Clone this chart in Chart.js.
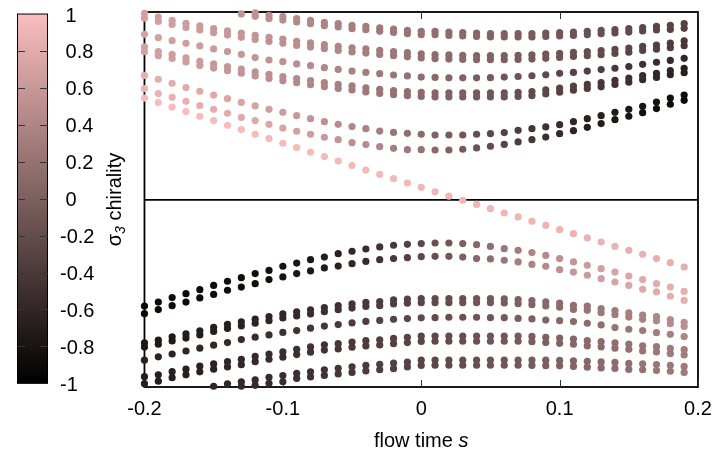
<!DOCTYPE html>
<html>
<head>
<meta charset="utf-8">
<script src="https://cdn.jsdelivr.net/npm/chart.js@4/dist/chart.umd.min.js"></script>
<style>
  html, body { margin: 0; padding: 0; background: #fff; }
</style>
</head>
<body>
<canvas id="chart" width="715" height="451"></canvas>
<script>
// flow time s, one column of points every 0.01
const flowTime = [
  -0.20, -0.19, -0.18, -0.17, -0.16, -0.15, -0.14, -0.13, -0.12, -0.11,
  -0.10, -0.09, -0.08, -0.07, -0.06, -0.05, -0.04, -0.03, -0.02, -0.01,
   0.00,  0.01,  0.02,  0.03,  0.04,  0.05,  0.06,  0.07,  0.08,  0.09,
   0.10,  0.11,  0.12,  0.13,  0.14,  0.15,  0.16,  0.17,  0.18,  0.19
];
const flowTicks = [-0.2, -0.1, 0, 0.1, 0.2];
const colorbarTicks = [1, 0.8, 0.6, 0.4, 0.2, 0, -0.2, -0.4, -0.6, -0.8, -1];

// upper branches (null = outside the plotted range)
const u1Upper = [
  null, null, null, null, null, null, null, null, 0.995, 0.982,
  0.975, 0.965, 0.956, 0.945, 0.938, 0.929, 0.924, 0.915, 0.909, 0.902,
  0.897, 0.897, 0.893, 0.890, 0.888, 0.885, 0.885, 0.885, 0.885, 0.888,
  0.890, 0.893, 0.897, 0.902, 0.906, 0.911, 0.917, 0.924, 0.929, 0.938
];
const u1Lower = [
  null, null, null, null, null, null, null, 0.990, 0.977, 0.964,
  0.957, 0.947, 0.938, 0.927, 0.920, 0.911, 0.906, 0.897, 0.891, 0.884,
  0.879, 0.879, 0.875, 0.872, 0.870, 0.867, 0.867, 0.867, 0.867, 0.870,
  0.872, 0.875, 0.879, 0.884, 0.888, 0.893, 0.899, 0.904, 0.907, 0.913
];
const u1Chirality = [
  null, null, null, null, null, null, null, 0.55, 0.53, 0.50,
  0.47, 0.44, 0.42, 0.39, 0.36, 0.33, 0.30, 0.27, 0.25, 0.22,
  0.20, 0.17, 0.14, 0.11, 0.08, 0.05, 0.02, -0.01, -0.04, -0.07,
  -0.10, -0.12, -0.15, -0.17, -0.20, -0.22, -0.25, -0.27, -0.30, -0.32
];

const u2Upper = [
  0.993, 0.973, 0.956, 0.940, 0.926, 0.912, 0.899, 0.887, 0.876, 0.865,
  0.855, 0.844, 0.835, 0.826, 0.817, 0.809, 0.803, 0.796, 0.789, 0.783,
  0.777, 0.773, 0.771, 0.769, 0.768, 0.768, 0.768, 0.769, 0.771, 0.775,
  0.780, 0.785, 0.789, 0.794, 0.801, 0.808, 0.817, 0.824, 0.834, 0.846
];
const u2Lower = [
  0.967, 0.950, 0.934, 0.918, 0.904, 0.890, 0.877, 0.865, 0.854, 0.843,
  0.833, 0.822, 0.813, 0.804, 0.795, 0.787, 0.781, 0.774, 0.767, 0.761,
  0.755, 0.751, 0.749, 0.747, 0.746, 0.746, 0.746, 0.747, 0.749, 0.753,
  0.758, 0.763, 0.767, 0.772, 0.779, 0.786, 0.795, 0.802, 0.810, 0.820
];
const u2Chirality = [
  0.68, 0.67, 0.66, 0.64, 0.63, 0.61, 0.60, 0.58, 0.56, 0.54,
  0.52, 0.49, 0.46, 0.43, 0.40, 0.37, 0.33, 0.29, 0.26, 0.22,
  0.18, 0.15, 0.12, 0.09, 0.06, 0.03, 0.00, -0.03, -0.06, -0.09,
  -0.12, -0.15, -0.18, -0.22, -0.25, -0.28, -0.31, -0.35, -0.38, -0.42
];

const u3 = [
  0.881, 0.863, 0.847, 0.833, 0.819, 0.803, 0.789, 0.774, 0.757, 0.744,
  0.735, 0.723, 0.714, 0.703, 0.694, 0.685, 0.678, 0.671, 0.664, 0.659,
  0.653, 0.651, 0.649, 0.649, 0.649, 0.650, 0.653, 0.656, 0.660, 0.665,
  0.673, 0.678, 0.685, 0.693, 0.700, 0.709, 0.721, 0.732, 0.742, 0.753
];
const u3Chirality = [
  0.70, 0.69, 0.68, 0.66, 0.65, 0.63, 0.61, 0.59, 0.57, 0.55,
  0.52, 0.49, 0.46, 0.42, 0.39, 0.35, 0.31, 0.27, 0.23, 0.19,
  0.14, 0.10, 0.06, 0.02, -0.02, -0.06, -0.10, -0.14, -0.18, -0.22,
  -0.26, -0.30, -0.34, -0.38, -0.42, -0.46, -0.50, -0.54, -0.57, -0.60
];

const u4Upper = [
  0.814, 0.789, 0.774, 0.756, 0.737, 0.723, 0.709, 0.696, 0.681, 0.667,
  0.655, 0.645, 0.634, 0.624, 0.614, 0.606, 0.596, 0.588, 0.581, 0.576,
  0.572, 0.569, 0.569, 0.569, 0.569, 0.569, 0.569, 0.572, 0.576, 0.585,
  0.594, 0.605, 0.614, 0.623, 0.636, 0.648, 0.661, 0.673, 0.688, 0.700
];
const u4Lower = [
  0.788, 0.767, 0.752, 0.734, 0.715, 0.701, 0.687, 0.674, 0.659, 0.645,
  0.633, 0.623, 0.612, 0.602, 0.592, 0.584, 0.574, 0.566, 0.559, 0.554,
  0.550, 0.547, 0.547, 0.547, 0.547, 0.547, 0.547, 0.550, 0.554, 0.563,
  0.572, 0.583, 0.592, 0.601, 0.614, 0.626, 0.639, 0.651, 0.666, 0.676
];
const u4Chirality = [
  0.68, 0.67, 0.66, 0.64, 0.62, 0.60, 0.58, 0.56, 0.54, 0.51,
  0.48, 0.45, 0.42, 0.38, 0.35, 0.31, 0.27, 0.23, 0.19, 0.15,
  0.11, 0.07, 0.03, -0.01, -0.05, -0.09, -0.13, -0.17, -0.21, -0.25,
  -0.30, -0.34, -0.38, -0.43, -0.47, -0.51, -0.55, -0.59, -0.63, -0.67
];

const u5 = [
  0.662, 0.641, 0.620, 0.597, 0.577, 0.557, 0.538, 0.518, 0.499, 0.481,
  0.465, 0.447, 0.431, 0.415, 0.401, 0.389, 0.378, 0.365, 0.358, 0.353,
  0.348, 0.344, 0.344, 0.344, 0.348, 0.351, 0.357, 0.369, 0.378, 0.387,
  0.399, 0.415, 0.431, 0.447, 0.465, 0.481, 0.497, 0.520, 0.541, 0.557
];
const u5Chirality = [
  0.84, 0.83, 0.82, 0.80, 0.79, 0.77, 0.75, 0.73, 0.70, 0.67,
  0.64, 0.60, 0.56, 0.52, 0.47, 0.42, 0.36, 0.30, 0.24, 0.17,
  0.10, 0.03, -0.04, -0.11, -0.18, -0.25, -0.32, -0.38, -0.44, -0.50,
  -0.55, -0.60, -0.65, -0.69, -0.73, -0.76, -0.79, -0.82, -0.84, -0.86
];

const u6 = [
  0.591, 0.565, 0.545, 0.524, 0.501, 0.481, 0.460, 0.438, 0.421, 0.401,
  0.381, 0.364, 0.348, 0.332, 0.319, 0.303, 0.293, 0.282, 0.273, 0.266,
  0.266, 0.264, 0.264, 0.268, 0.275, 0.284, 0.294, 0.307, 0.319, 0.333,
  0.351, 0.367, 0.385, 0.405, 0.426, 0.444, 0.463, 0.485, 0.508, 0.529
];
const u6Chirality = [
  0.88, 0.87, 0.86, 0.85, 0.84, 0.83, 0.81, 0.79, 0.77, 0.75,
  0.72, 0.69, 0.65, 0.61, 0.56, 0.51, 0.46, 0.40, 0.33, 0.26,
  0.19, 0.11, 0.03, -0.05, -0.13, -0.21, -0.29, -0.36, -0.43, -0.50,
  -0.57, -0.63, -0.68, -0.72, -0.76, -0.80, -0.83, -0.86, -0.88, -0.90
];

// the branch that crosses zero
const crossing = [
  0.541, 0.517, 0.493, 0.469, 0.444, 0.421, 0.396, 0.373, 0.348, 0.325,
  0.300, 0.277, 0.252, 0.229, 0.205, 0.181, 0.157, 0.134, 0.111, 0.088,
  0.065, 0.041, 0.018, -0.004, -0.026, -0.049, -0.072, -0.093, -0.116, -0.138,
  -0.161, -0.182, -0.205, -0.227, -0.250, -0.271, -0.292, -0.315, -0.337, -0.360
];
const crossingChirality = [
  0.98, 0.98, 0.98, 0.98, 0.97, 0.97, 0.97, 0.97, 0.97, 0.96,
  0.96, 0.96, 0.96, 0.95, 0.95, 0.95, 0.95, 0.94, 0.94, 0.94,
  0.93, 0.93, 0.93, 0.92, 0.92, 0.91, 0.91, 0.90, 0.90, 0.89,
  0.89, 0.88, 0.88, 0.87, 0.87, 0.86, 0.86, 0.85, 0.85, 0.84
];

// lower branches
const l1Upper = [
  -0.568, -0.547, -0.523, -0.502, -0.481, -0.458, -0.436, -0.417, -0.395, -0.378,
  -0.356, -0.339, -0.321, -0.307, -0.289, -0.276, -0.264, -0.253, -0.244, -0.239,
  -0.235, -0.232, -0.232, -0.235, -0.241, -0.250, -0.262, -0.271, -0.283, -0.298,
  -0.315, -0.333, -0.351, -0.369, -0.387, -0.408, -0.427, -0.449, -0.467, -0.490
];
const l1Lower = [
  -0.609, -0.587, -0.566, -0.547, -0.525, -0.506, -0.484, -0.467, -0.449, -0.427,
  -0.413, -0.395, -0.381, -0.365, -0.355, -0.342, -0.330, -0.321, -0.315, -0.310,
  -0.305, -0.303, -0.303, -0.307, -0.315, -0.317, -0.324, -0.333, -0.346, -0.356,
  -0.374, -0.387, -0.404, -0.422, -0.440, -0.458, -0.479, -0.493, -0.516, -0.538
];
const l1Chirality = [
  -0.90, -0.90, -0.89, -0.89, -0.88, -0.88, -0.87, -0.86, -0.85, -0.83,
  -0.81, -0.78, -0.75, -0.71, -0.66, -0.61, -0.55, -0.48, -0.41, -0.33,
  -0.25, -0.17, -0.08, 0.00, 0.08, 0.16, 0.24, 0.31, 0.38, 0.45,
  0.51, 0.57, 0.62, 0.67, 0.71, 0.75, 0.78, 0.81, 0.83, 0.85
];

const l2Upper = [
  -0.765, -0.750, -0.732, -0.717, -0.700, -0.682, -0.666, -0.652, -0.638, -0.624,
  -0.610, -0.599, -0.588, -0.576, -0.566, -0.557, -0.548, -0.544, -0.535, -0.531,
  -0.528, -0.528, -0.528, -0.528, -0.528, -0.528, -0.530, -0.534, -0.539, -0.546,
  -0.552, -0.564, -0.569, -0.582, -0.592, -0.605, -0.617, -0.625, -0.640, -0.655
];
const l2Lower = [
  -0.787, -0.772, -0.754, -0.739, -0.722, -0.704, -0.688, -0.674, -0.660, -0.646,
  -0.632, -0.621, -0.610, -0.598, -0.588, -0.579, -0.570, -0.566, -0.557, -0.553,
  -0.550, -0.550, -0.550, -0.550, -0.550, -0.550, -0.552, -0.556, -0.561, -0.568,
  -0.574, -0.586, -0.591, -0.604, -0.614, -0.627, -0.639, -0.647, -0.662, -0.677
];
const l2Chirality = [
  -0.76, -0.75, -0.74, -0.72, -0.71, -0.69, -0.68, -0.66, -0.64, -0.62,
  -0.60, -0.57, -0.54, -0.51, -0.48, -0.45, -0.42, -0.38, -0.35, -0.31,
  -0.27, -0.23, -0.19, -0.15, -0.11, -0.07, -0.03, 0.01, 0.05, 0.09,
  0.13, 0.17, 0.21, 0.25, 0.29, 0.33, 0.37, 0.41, 0.45, 0.49
];

const l3 = [
  -0.857, -0.839, -0.824, -0.808, -0.793, -0.777, -0.763, -0.747, -0.734, -0.722,
  -0.709, -0.699, -0.686, -0.675, -0.667, -0.658, -0.650, -0.645, -0.639, -0.635,
  -0.631, -0.630, -0.628, -0.628, -0.628, -0.630, -0.630, -0.634, -0.637, -0.643,
  -0.646, -0.651, -0.660, -0.669, -0.683, -0.692, -0.699, -0.710, -0.719, -0.731
];
const l3Chirality = [
  -0.66, -0.65, -0.64, -0.62, -0.61, -0.59, -0.58, -0.56, -0.54, -0.52,
  -0.50, -0.48, -0.46, -0.43, -0.41, -0.38, -0.36, -0.33, -0.30, -0.27,
  -0.24, -0.21, -0.18, -0.15, -0.12, -0.09, -0.06, -0.03, 0.00, 0.04,
  0.07, 0.10, 0.14, 0.17, 0.21, 0.24, 0.28, 0.31, 0.35, 0.38
];

const l4Upper = [
  -0.945, -0.935, -0.918, -0.905, -0.889, -0.877, -0.865, -0.853, -0.837, -0.824,
  -0.813, -0.799, -0.786, -0.775, -0.769, -0.760, -0.753, -0.748, -0.741, -0.735,
  -0.729, -0.728, -0.728, -0.728, -0.728, -0.728, -0.728, -0.728, -0.730, -0.735,
  -0.739, -0.744, -0.753, -0.758, -0.765, -0.771, -0.780, -0.785, -0.794, -0.801
];
const l4Lower = [
  -0.982, -0.969, -0.950, -0.935, -0.919, -0.905, -0.893, -0.881, -0.865, -0.852,
  -0.841, -0.827, -0.814, -0.803, -0.797, -0.788, -0.781, -0.776, -0.769, -0.763,
  -0.757, -0.756, -0.756, -0.756, -0.756, -0.756, -0.756, -0.756, -0.758, -0.763,
  -0.767, -0.772, -0.781, -0.786, -0.793, -0.799, -0.808, -0.813, -0.822, -0.829
];
const l4Chirality = [
  -0.70, -0.69, -0.68, -0.66, -0.65, -0.63, -0.61, -0.59, -0.57, -0.55,
  -0.53, -0.51, -0.48, -0.46, -0.43, -0.41, -0.38, -0.35, -0.32, -0.29,
  -0.26, -0.23, -0.20, -0.17, -0.14, -0.11, -0.08, -0.05, -0.02, 0.01,
  0.04, 0.07, 0.10, 0.13, 0.16, 0.19, 0.22, 0.25, 0.28, 0.31
];

const l5Upper = [
  null, null, null, null, null, -0.996, -0.983, -0.972, -0.962, -0.948,
  -0.939, -0.927, -0.919, -0.908, -0.900, -0.892, -0.884, -0.879, -0.872, -0.867,
  -0.857, -0.856, -0.856, -0.856, -0.856, -0.856, -0.856, -0.856, -0.856, -0.857,
  -0.858, -0.860, -0.863, -0.866, -0.869, -0.874, -0.876, -0.880, -0.884, -0.890
];
const l5Lower = [
  null, null, null, null, null, null, null, -0.996, -0.991, -0.980,
  -0.972, -0.954, -0.946, -0.938, -0.930, -0.922, -0.914, -0.908, -0.902, -0.893,
  -0.885, -0.884, -0.884, -0.884, -0.884, -0.884, -0.884, -0.884, -0.885, -0.886,
  -0.887, -0.890, -0.894, -0.898, -0.901, -0.906, -0.908, -0.912, -0.916, -0.922
];
const l5Chirality = [
  null, null, null, null, null, -0.62, -0.61, -0.59, -0.57, -0.55,
  -0.53, -0.51, -0.49, -0.47, -0.44, -0.42, -0.39, -0.37, -0.34, -0.31,
  -0.28, -0.25, -0.22, -0.19, -0.16, -0.13, -0.10, -0.07, -0.04, -0.01,
  0.02, 0.05, 0.08, 0.11, 0.14, 0.17, 0.20, 0.23, 0.26, 0.29
];

const series = [
  [u1Upper, u1Chirality], [u1Lower, u1Chirality],
  [u2Upper, u2Chirality], [u2Lower, u2Chirality],
  [u3, u3Chirality],
  [u4Upper, u4Chirality], [u4Lower, u4Chirality],
  [u5, u5Chirality], [u6, u6Chirality],
  [crossing, crossingChirality],
  [l1Upper, l1Chirality], [l1Lower, l1Chirality],
  [l2Upper, l2Chirality], [l2Lower, l2Chirality],
  [l3, l3Chirality],
  [l4Upper, l4Chirality], [l4Lower, l4Chirality],
  [l5Upper, l5Chirality], [l5Lower, l5Chirality]
];

const FONT = '"Liberation Sans", Arial, Helvetica, sans-serif';

// black (-1) to pale pink (+1)
function chiralityColor(c) {
  const f = (c + 1) / 2;
  return 'rgb(' + Math.round(250 * f) + ',' + Math.round(190 * f) + ',' + Math.round(190 * f) + ')';
}

const datasets = series.map(([ys, cs]) => {
  const points = [];
  const colors = [];
  ys.forEach((y, i) => {
    if (y === null) return;
    points.push({ x: flowTime[i], y: y });
    colors.push(chiralityColor(cs[i]));
  });
  return {
    data: points,
    pointBackgroundColor: colors,
    pointBorderWidth: 0,
    pointRadius: 3.6,
    showLine: false,
    clip: false
  };
});

const decorations = {
  id: 'decorations',
  beforeDatasetsDraw(chart) {
    const { ctx, chartArea: a, scales: { x } } = chart;
    ctx.save();
    ctx.strokeStyle = '#000';
    ctx.lineWidth = 1.8;
    ctx.strokeRect(a.left, a.top, a.right - a.left, a.bottom - a.top);
    // inward tick marks, bottom and top
    ctx.lineWidth = 1;
    ctx.strokeStyle = '#333';
    flowTicks.forEach(v => {
      const px = Math.round(x.getPixelForValue(v)) + 0.5;
      ctx.beginPath();
      ctx.moveTo(px, a.bottom); ctx.lineTo(px, a.bottom - 7);
      ctx.moveTo(px, a.top); ctx.lineTo(px, a.top + 7);
      ctx.stroke();
    });
    ctx.restore();
  },
  afterDraw(chart) {
    const { ctx, chartArea: a, scales: { cb } } = chart;
    ctx.save();

    // colour bar
    const top = cb.getPixelForValue(1);
    const bottom = cb.getPixelForValue(-1);
    const grad = ctx.createLinearGradient(0, top, 0, bottom);
    grad.addColorStop(0, chiralityColor(1));
    grad.addColorStop(1, chiralityColor(-1));
    ctx.fillStyle = grad;
    ctx.fillRect(17, top, 31, bottom - top);
    ctx.strokeStyle = '#000';
    ctx.lineWidth = 1;
    ctx.strokeRect(17.5, top, 30, bottom - top);
    ctx.strokeStyle = '#333';
    colorbarTicks.forEach(v => {
      if (Math.abs(v) === 1) return;
      const py = Math.round(cb.getPixelForValue(v)) + 0.5;
      ctx.beginPath();
      ctx.moveTo(17, py); ctx.lineTo(25, py);
      ctx.moveTo(40, py); ctx.lineTo(48, py);
      ctx.stroke();
    });

    ctx.fillStyle = '#000';
    ctx.textBaseline = 'alphabetic';

    // x title: flow time s
    const xa = 'flow time ', xb = 's';
    ctx.font = '20px ' + FONT;
    const wa = ctx.measureText(xa).width;
    ctx.font = 'italic 20px ' + FONT;
    const wb = ctx.measureText(xb).width;
    let sx = (a.left + a.right) / 2 - (wa + wb) / 2;
    ctx.font = '20px ' + FONT;
    ctx.fillText(xa, sx, 447);
    ctx.font = 'italic 20px ' + FONT;
    ctx.fillText(xb, sx + wa, 447);

    // y title: sigma_3 chirality
    ctx.translate(121, (a.top + a.bottom) / 2);
    ctx.rotate(-Math.PI / 2);
    const ya = '\u03c3', yb = '3', yc = ' chirality';
    ctx.font = '20px ' + FONT;
    const w1 = ctx.measureText(ya).width;
    const w3 = ctx.measureText(yc).width;
    ctx.font = 'italic 14px ' + FONT;
    const w2 = ctx.measureText(yb).width;
    let ty = -(w1 + w2 + w3) / 2;
    ctx.font = '20px ' + FONT;
    ctx.fillText(ya, ty, 0);
    ctx.font = 'italic 14px ' + FONT;
    ctx.fillText(yb, ty + w1, 4);
    ctx.font = '20px ' + FONT;
    ctx.fillText(yc, ty + w1 + w2, 0);

    ctx.restore();
  }
};

Chart.defaults.font.family = FONT;
Chart.defaults.font.size = 20;
Chart.defaults.color = '#000';

new Chart(document.getElementById('chart'), {
  type: 'scatter',
  data: { datasets: datasets },
  options: {
    responsive: false,
    animation: false,
    events: [],
    layout: { padding: { left: 60, right: 17, top: 12, bottom: 30 } },
    plugins: { legend: { display: false }, tooltip: { enabled: false } },
    scales: {
      x: {
        type: 'linear',
        min: -0.2,
        max: 0.2,
        afterBuildTicks: s => { s.ticks = flowTicks.map(v => ({ value: v })); },
        ticks: { padding: 0, maxRotation: 0, callback: v => String(v) },
        grid: { drawOnChartArea: false, drawTicks: true, tickLength: 10, color: 'rgba(0,0,0,0)' },
        border: { display: false }
      },
      y: {
        type: 'linear',
        position: 'left',
        weight: 0,
        min: -1,
        max: 1,
        afterBuildTicks: s => { s.ticks = [{ value: 0 }]; },
        ticks: { display: false },
        grid: { drawTicks: false, color: '#000', lineWidth: 1.8 },
        border: { display: false }
      },
      cb: {
        type: 'linear',
        position: 'left',
        weight: 1,
        min: -1.02,
        max: 1.011,
        afterBuildTicks: s => { s.ticks = colorbarTicks.map(v => ({ value: v })); },
        ticks: { crossAlign: 'far', padding: 0, labelOffset: 2, callback: v => (v >= 0 ? ' ' : '') + v },
        grid: { drawOnChartArea: false, drawTicks: true, tickLength: 50, color: 'rgba(0,0,0,0)' },
        border: { display: false }
      }
    }
  },
  plugins: [decorations]
});
</script>
</body>
</html>
